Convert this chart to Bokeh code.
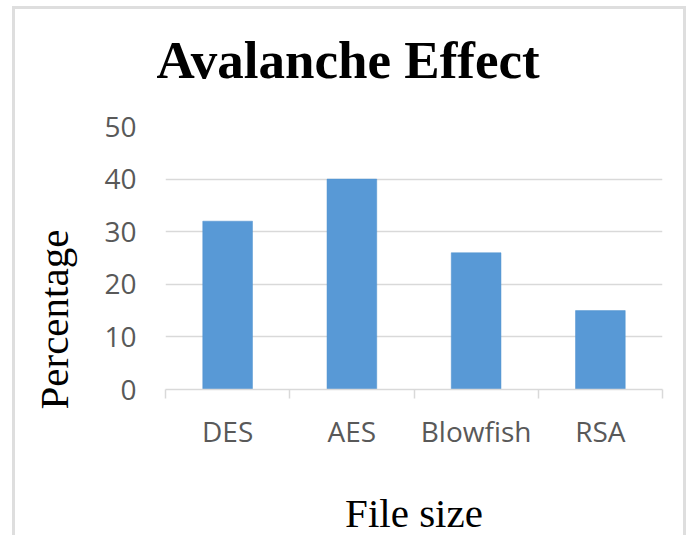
from bokeh.plotting import figure
from bokeh.models import FixedTicker, Title, Range1d, ColumnDataSource
from bokeh.embed import file_html
from bokeh.resources import INLINE

# ---- data ----
categories = ["DES", "AES", "Blowfish", "RSA"]
values = [32, 40, 26, 15]
y_ticks = [0, 10, 20, 30, 40, 50]

n = len(categories)
centers = [i + 0.5 for i in range(n)]
bounds = list(range(n + 1))

source = ColumnDataSource(dict(x=centers, top=values, cat=categories))

p = figure(
    width=674, height=529,
    x_range=Range1d(0, n), y_range=Range1d(y_ticks[0], y_ticks[-1]),
    output_backend="svg", toolbar_location=None,
    min_border_left=150, min_border_right=27, min_border_top=117, min_border_bottom=148,
    background_fill_color="white", border_fill_color="white",
)
p.outline_line_color = None
p.styles = {"margin-left": "12px", "margin-top": "6px",
            "border-top": "3px solid #dedede", "border-left": "3px solid #dedede",
            "border-right": "3px solid #dedede"}

p.vbar(x="x", top="top", bottom=0, width=0.4, source=source,
       fill_color="#5899d6", line_color="#4f90cf", line_width=0.5)

# title
p.title.text = "Avalanche Effect"
p.title.text_font = "Liberation Serif"
p.title.text_font_size = "53px"
p.title.text_font_style = "bold"
p.title.text_color = "black"
p.title.align = "left"
p.title.offset = -9
p.title.standoff = 0
p.title.padding = dict(left=0, right=0, top=0, bottom=38)

# y label as a left title
ylab = Title(text="Percentage", align="left", offset=-20, standoff=0,
             padding=dict(left=0, right=0, top=0, bottom=25),
             text_font="Liberation Serif", text_font_size="41px",
             text_font_style="normal", text_color="black")
p.add_layout(ylab, "left")

# grids
p.xgrid.grid_line_color = None
p.ygrid.ticker = FixedTicker(ticks=y_ticks)
p.ygrid.grid_line_color = "#d9d9d9"
p.ygrid.grid_line_width = 1.3

# y axis
p.yaxis.ticker = FixedTicker(ticks=y_ticks)
p.yaxis.axis_line_color = None
p.yaxis.major_tick_line_color = None
p.yaxis.minor_tick_line_color = None
p.yaxis.major_label_standoff = 23
p.yaxis.major_label_text_font = "Open Sans"
p.yaxis.major_label_text_font_size = "28px"
p.yaxis.major_label_text_color = "#595959"

# x axis
p.xaxis.ticker = FixedTicker(ticks=centers, minor_ticks=bounds)
p.xaxis.major_label_overrides = {c: lab for c, lab in zip(centers, categories)}
p.xaxis.axis_line_color = "#d9d9d9"
p.xaxis.axis_line_width = 1.5
p.xaxis.major_tick_line_color = None
p.xaxis.major_tick_out = 0
p.xaxis.major_tick_in = 0
p.xaxis.minor_tick_line_color = "#d9d9d9"
p.xaxis.minor_tick_line_width = 1.5
p.xaxis.minor_tick_out = 9
p.xaxis.minor_tick_in = 0
p.xaxis.major_label_standoff = 13
p.xaxis.major_label_text_font = "Open Sans"
p.xaxis.major_label_text_font_size = "28px"
p.xaxis.major_label_text_color = "#595959"
p.xaxis.axis_label = "File size"
p.xaxis.axis_label_text_font = "Liberation Serif"
p.xaxis.axis_label_text_font_size = "41px"
p.xaxis.axis_label_text_font_style = "normal"
p.xaxis.axis_label_text_color = "black"
p.xaxis.axis_label_standoff = 37

open("out.html", "w").write(file_html(p, INLINE))
